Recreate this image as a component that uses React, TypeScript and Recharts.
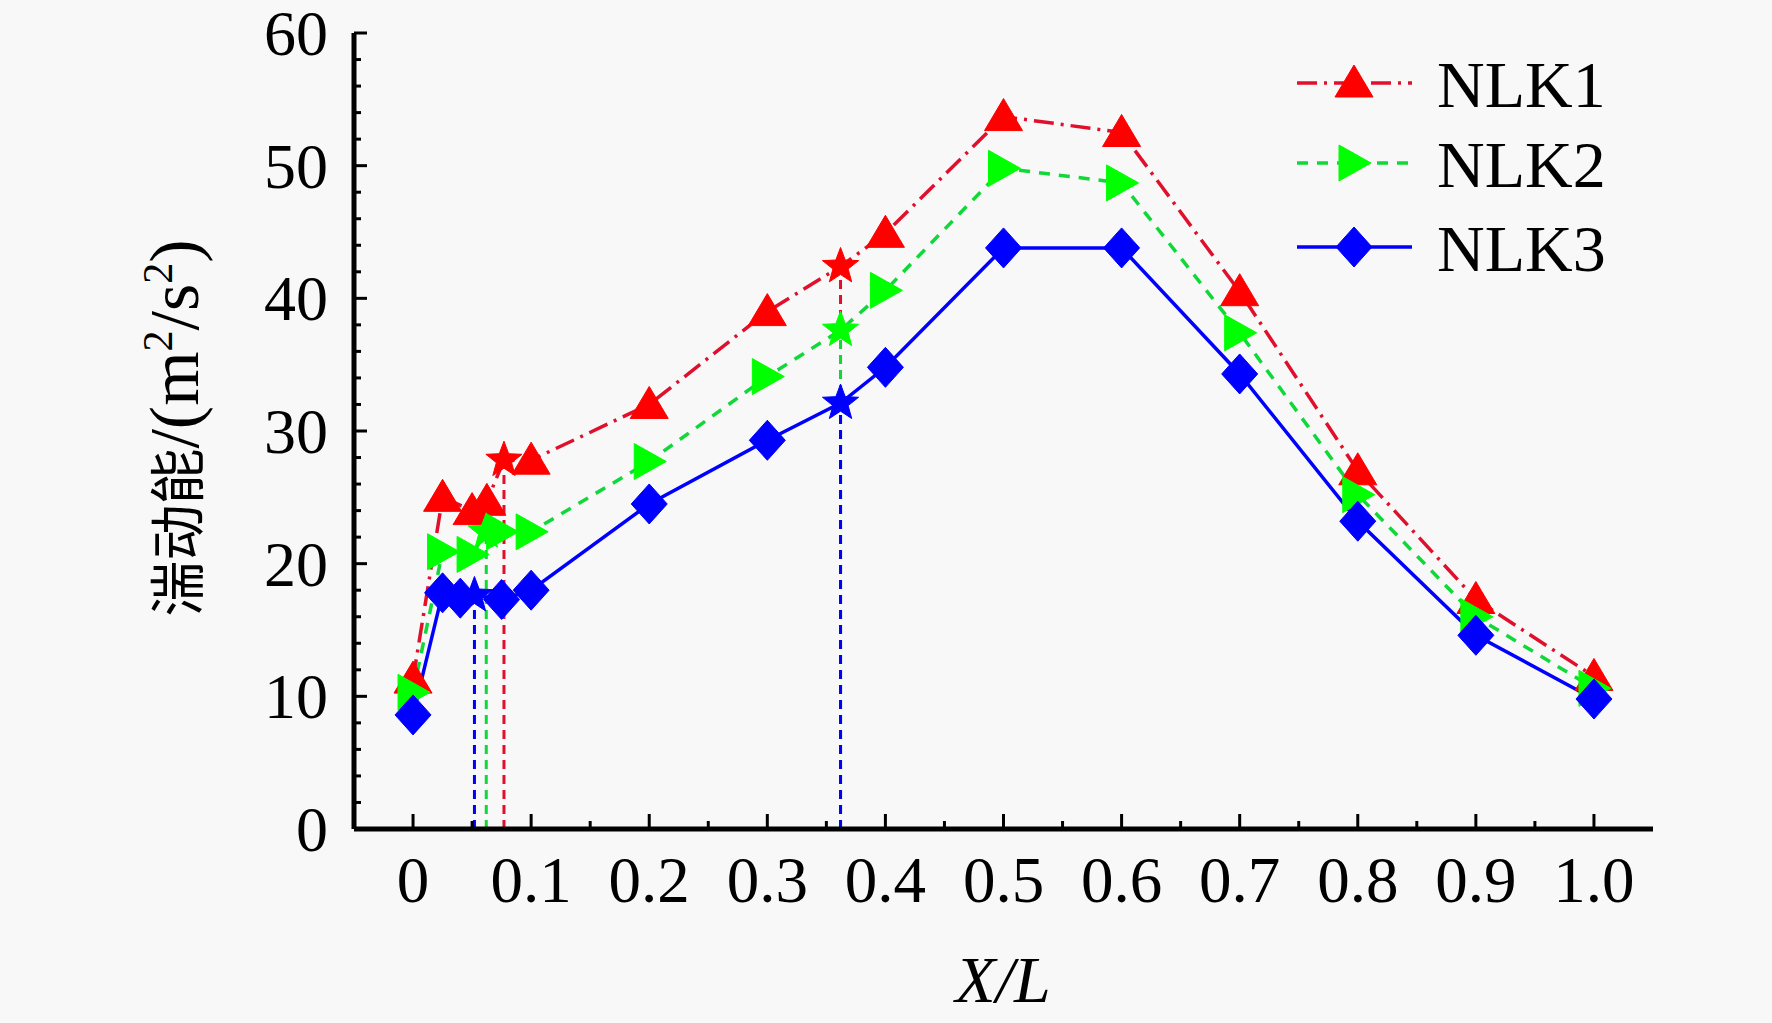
import { LineChart, Line, XAxis, YAxis, ReferenceLine } from 'recharts';

// X/L positions and turbulent kinetic energy values (m^2/s^2)
const nlk1X = [0, 0.025, 0.05, 0.0625, 0.077, 0.1, 0.2, 0.3, 0.362, 0.4, 0.5, 0.6, 0.7, 0.8, 0.9, 1.0];
const nlk1Y = [11.3, 25.0, 24.0, 24.7, 27.8, 27.8, 32.0, 39.0, 42.4, 44.9, 53.7, 52.5, 40.5, 27.0, 17.3, 11.5];
const nlk1Stars = [0.077, 0.362];

const nlk2X = [0, 0.025, 0.05, 0.062, 0.075, 0.1, 0.2, 0.3, 0.362, 0.4, 0.5, 0.6, 0.7, 0.8, 0.9, 1.0];
const nlk2Y = [10.3, 20.9, 20.7, 22.4, 22.4, 22.4, 27.7, 34.1, 37.6, 40.6, 49.8, 48.7, 37.4, 25.2, 16.0, 10.6];
const nlk2Stars = [0.062, 0.362];

const nlk3X = [0, 0.025, 0.04, 0.052, 0.075, 0.1, 0.2, 0.3, 0.362, 0.4, 0.5, 0.6, 0.7, 0.8, 0.9, 1.0];
const nlk3Y = [8.6, 17.8, 17.4, 17.6, 17.3, 18.0, 24.5, 29.3, 32.1, 34.8, 43.8, 43.8, 34.3, 23.2, 14.6, 9.8];
const nlk3Stars = [0.052, 0.362];

const xMajorTicks = [0, 0.1, 0.2, 0.3, 0.4, 0.5, 0.6, 0.7, 0.8, 0.9, 1.0];
const xTickLabels = ['0', '0.1', '0.2', '0.3', '0.4', '0.5', '0.6', '0.7', '0.8', '0.9', '1.0'];
const xMinorTicks = [0.05, 0.15, 0.25, 0.35, 0.45, 0.55, 0.65, 0.75, 0.85, 0.95];

const yMajorTicks = [0, 10, 20, 30, 40, 50, 60];
const yMinorTicks = [2, 4, 6, 8, 12, 14, 16, 18, 22, 24, 26, 28, 32, 34, 36, 38, 42, 44, 46, 48, 52, 54, 56, 58];

const seriesNames = ['NLK1', 'NLK2', 'NLK3'];

const SERIF = '"Liberation Serif", "Times New Roman", serif';
const CJK = '"Liberation Serif", "Noto Sans CJK SC", serif';

const build = (xs: number[], ys: number[], stars: number[]) =>
  xs.map((x, i) => ({ x, y: ys[i], star: stars.includes(x) }));

const series = [
  {
    name: seriesNames[0],
    data: build(nlk1X, nlk1Y, nlk1Stars),
    fill: '#ff0000',
    line: '#e0102c',
    dash: '20 7 3 7',
    shape: 'up',
  },
  {
    name: seriesNames[1],
    data: build(nlk2X, nlk2Y, nlk2Stars),
    fill: '#00ff00',
    line: '#10d838',
    dash: '11 9',
    shape: 'right',
  },
  {
    name: seriesNames[2],
    data: build(nlk3X, nlk3Y, nlk3Stars),
    fill: '#0000ff',
    line: '#0000ff',
    dash: undefined,
    shape: 'diamond',
  },
];

const starPoints = (cx: number, cy: number, R: number, r: number) => {
  const pts: string[] = [];
  for (let i = 0; i < 10; i++) {
    const a = ((-90 + i * 36) * Math.PI) / 180;
    const rad = i % 2 === 0 ? R : r;
    pts.push(`${cx + rad * Math.cos(a)},${cy + rad * Math.sin(a)}`);
  }
  return pts.join(' ');
};

const markerPoints = (shape: string, cx: number, cy: number) => {
  if (shape === 'up') return `${cx},${cy - 18} ${cx - 19},${cy + 14} ${cx + 19},${cy + 14}`;
  if (shape === 'right') return `${cx - 15},${cy - 18} ${cx - 15},${cy + 18} ${cx + 17},${cy}`;
  return `${cx},${cy - 20} ${cx + 18},${cy} ${cx},${cy + 20} ${cx - 18},${cy}`;
};

const makeDot = (shape: string, fill: string, name: string) => (props: any) => {
  const { cx, cy, payload, index } = props;
  if (cx == null || cy == null) return <g key={`${name}-${index}`} />;
  const pts = payload.star ? starPoints(cx, cy, 19, 8) : markerPoints(shape, cx, cy);
  return (
    <polygon
      key={`${name}-${index}`}
      points={pts}
      fill={fill}
      stroke={fill}
      strokeWidth={1}
      strokeLinejoin="miter"
    />
  );
};

const XTick = (props: any) => {
  const { x, y, payload } = props;
  const idx = xMajorTicks.indexOf(payload.value);
  const major = idx >= 0;
  return (
    <g>
      <line x1={x} y1={y} x2={x} y2={y - (major ? 15 : 8)} stroke="#000" strokeWidth={3} />
      {major && (
        <text x={x} y={y + 73} textAnchor="middle" fontFamily={SERIF} fontSize={65} fill="#000">
          {xTickLabels[idx]}
        </text>
      )}
    </g>
  );
};

const YTick = (props: any) => {
  const { x, y, payload } = props;
  const major = yMajorTicks.includes(payload.value);
  return (
    <g>
      <line x1={x} y1={y} x2={x + (major ? 13 : 7)} y2={y} stroke="#000" strokeWidth={3} />
      {major && (
        <text x={x - 26} y={y + 22} textAnchor="end" fontFamily={SERIF} fontSize={64} fill="#000">
          {payload.value}
        </text>
      )}
    </g>
  );
};

const LegendOverlay = () => {
  const rows = [83, 163, 247];
  return (
    <svg
      width={1772}
      height={1023}
      style={{ position: 'absolute', left: 0, top: 0, pointerEvents: 'none' }}
    >
      {series.map((s, i) => (
        <g key={s.name}>
          <line
            x1={1297}
            y1={rows[i]}
            x2={1412}
            y2={rows[i]}
            stroke={s.line}
            strokeWidth={3.5}
            strokeDasharray={s.dash}
          />
          <polygon points={markerPoints(s.shape, 1354, rows[i])} fill={s.fill} stroke={s.fill} />
          <text x={1437} y={rows[i] + 24} fontFamily={SERIF} fontSize={66} fill="#000">
            {s.name}
          </text>
        </g>
      ))}
      <text
        x={1003}
        y={1002}
        textAnchor="middle"
        fontFamily={SERIF}
        fontStyle="italic"
        fontSize={66}
        fill="#000"
      >
        X/L
      </text>
      <text
        transform="translate(198, 428) rotate(-90)"
        textAnchor="middle"
        fontFamily={CJK}
        fontSize={70}
        fill="#000"
      >
        <tspan fontSize={56}>湍动能</tspan>
        /(m
        <tspan fontSize={42} dy={-26}>2</tspan>
        <tspan dy={26}>/s</tspan>
        <tspan fontSize={42} dy={-26}>2</tspan>
        <tspan dy={26}>)</tspan>
      </text>
    </svg>
  );
};

export default function App() {
  return (
    <div style={{ position: 'absolute', left: 0, top: 0, width: 1772, height: 1023, background: '#f8f8f8' }}>
      <LineChart width={1772} height={1023} margin={{ top: 33, right: 119, left: 0, bottom: 0 }}>
        <XAxis
          dataKey="x"
          type="number"
          domain={[-0.05, 1.05]}
          ticks={[...xMajorTicks, ...xMinorTicks].sort((a, b) => a - b)}
          interval={0}
          height={194}
          tickSize={0}
          tickMargin={0}
          tickLine={false}
          axisLine={{ stroke: '#000', strokeWidth: 5 }}
          tick={<XTick />}
          allowDataOverflow
        />
        <XAxis
          xAxisId="top"
          orientation="top"
          type="number"
          domain={[-0.05, 1.05]}
          height={0}
          tick={false}
          tickLine={false}
          axisLine={{ stroke: '#000', strokeWidth: 5 }}
        />
        <YAxis
          type="number"
          domain={[0, 60]}
          ticks={[...yMajorTicks, ...yMinorTicks].sort((a, b) => a - b)}
          interval={0}
          width={354}
          tickSize={0}
          tickMargin={0}
          tickLine={false}
          axisLine={{ stroke: '#000', strokeWidth: 5 }}
          tick={<YTick />}
          allowDataOverflow
        />
        <YAxis
          yAxisId="right"
          orientation="right"
          type="number"
          domain={[0, 60]}
          width={0}
          tick={false}
          tickLine={false}
          axisLine={{ stroke: '#000', strokeWidth: 5 }}
        />
        {series.map((s) =>
          s.data
            .filter((d) => d.star)
            .map((d) => (
              <ReferenceLine
                key={`${s.name}-drop-${d.x}`}
                segment={[
                  { x: d.x, y: 0 },
                  { x: d.x, y: d.y },
                ]}
                stroke={s.line}
                strokeWidth={3}
                strokeDasharray="9 6"
              />
            ))
        )}
        {series.map((s) => (
          <Line
            key={s.name}
            data={s.data}
            dataKey="y"
            name={s.name}
            type="linear"
            stroke={s.line}
            strokeWidth={3.5}
            strokeDasharray={s.dash}
            dot={makeDot(s.shape, s.fill, s.name)}
            activeDot={false}
            isAnimationActive={false}
          />
        ))}
      </LineChart>
      <LegendOverlay />
    </div>
  );
}
